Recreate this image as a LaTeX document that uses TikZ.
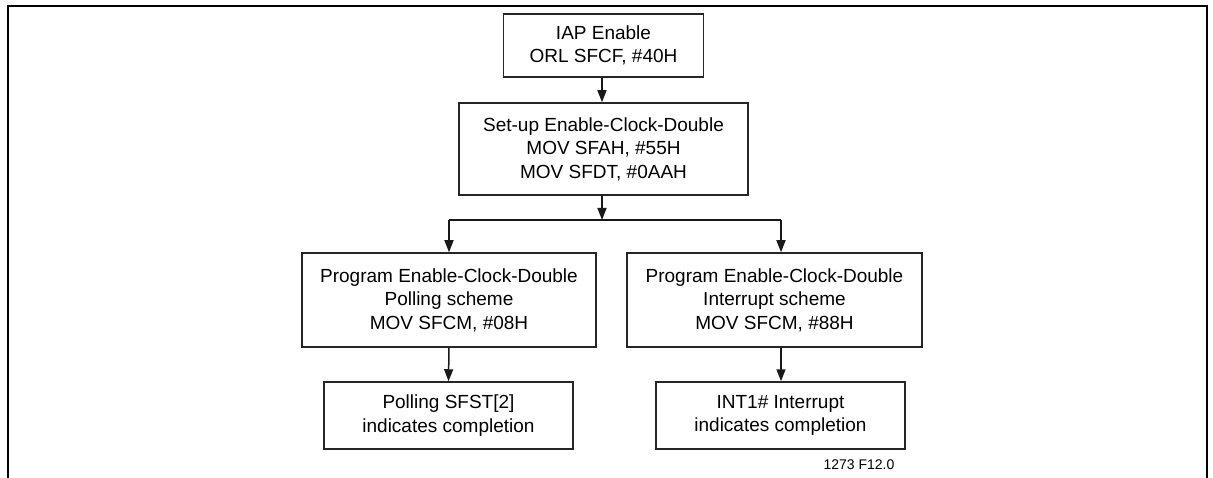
\documentclass[tikz,border=0pt]{standalone}
\usepackage{fontspec}
\setmainfont{Liberation Sans}
\usetikzlibrary{arrows.meta}
\begin{document}
\begin{tikzpicture}[x=1pt,y=-1pt,
  box/.style={draw=black!85, line width=1.5pt, align=center, inner sep=0pt,
    font=\fontsize{19}{23.5}\selectfont},
  conn/.style={line width=1.5pt, draw=black!90, -{Triangle[length=12pt,width=9pt]}},
  plain/.style={line width=1.5pt, draw=black!90}]
\useasboundingbox (0,0) rectangle (1213,478);
\draw[line width=2pt] (8,478) -- (8,6) -- (1207,6) -- (1207,478);
\node[box, minimum width=200pt, minimum height=63pt] (iap) at (603.5,45.5) {IAP Enable\\ORL SFCF, \#40H};
\node[box, minimum width=289pt, minimum height=92pt] (setup) at (603.5,149) {Set-up Enable-Clock-Double\\MOV SFAH, \#55H\\MOV SFDT, \#0AAH};
\node[box, minimum width=294pt, minimum height=94pt] (poll) at (449,300) {Program Enable-Clock-Double\\Polling scheme\\MOV SFCM, \#08H};
\node[box, minimum width=295pt, minimum height=94pt] (intr) at (774.5,300) {Program Enable-Clock-Double\\Interrupt scheme\\MOV SFCM, \#88H};
\node[box, minimum width=249pt, minimum height=67pt] (pollc) at (448.5,415.5) {Polling SFST[2]\\indicates completion};
\node[box, minimum width=249pt, minimum height=67pt] (intrc) at (780.5,415.5) {INT1\# Interrupt\\indicates completion};
\node[font=\fontsize{14}{16}\selectfont] (lbl) at (859,465) {1273 F12.0};
\coordinate (mid) at (602,220);
\coordinate (lb) at (449,220);
\coordinate (rb) at (781,220);
\draw[conn] (mid |- iap.south) -- (mid |- setup.north);
\draw[conn] (mid |- setup.south) -- (mid);
\draw[plain] (lb) -- (rb);
\draw[conn] (lb) -- (lb |- poll.north);
\draw[conn] (rb) -- (rb |- intr.north);
\draw[conn] (poll.south) -- (pollc.north);
\draw[conn] (rb |- intr.south) -- (rb |- intrc.north);
\end{tikzpicture}
\end{document}
